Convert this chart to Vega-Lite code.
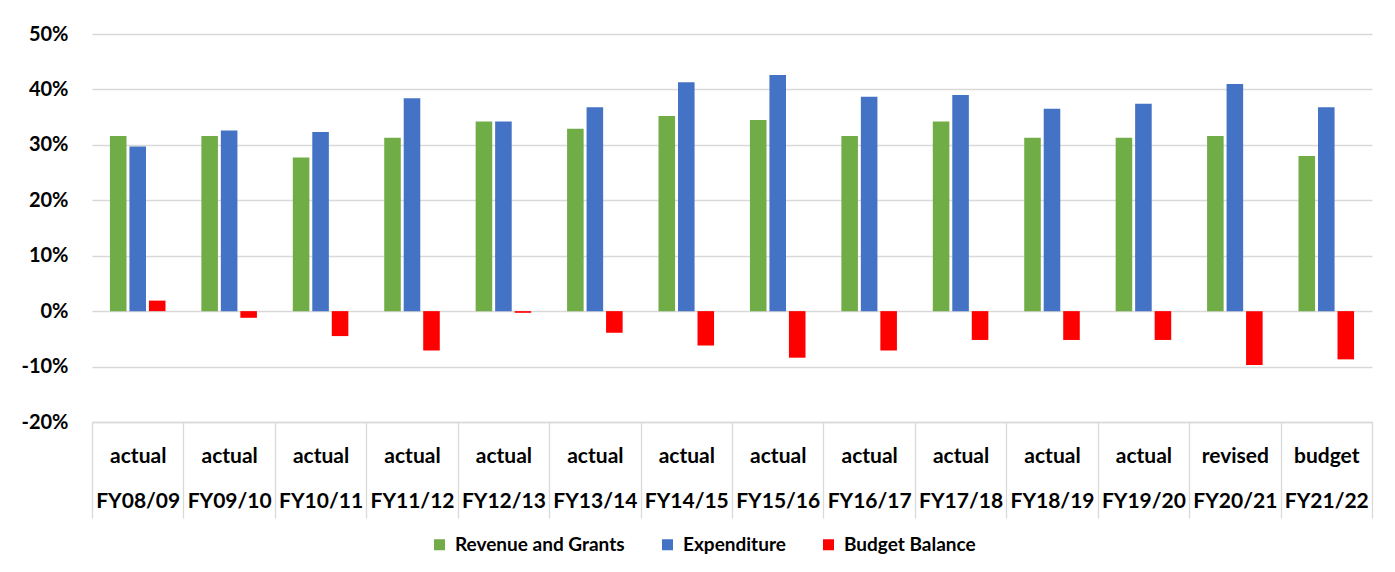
{
  "$schema": "https://vega.github.io/schema/vega-lite/v6.json",
  "width": 1280,
  "height": 388,
  "autosize": {"type": "none"},
  "padding": {"left": 92, "top": 34, "right": 23, "bottom": 150},
  "background": "white",
  "config": {"view": {"stroke": null}},
  "data": {
    "values": [
      {"period": "actual FY08/09", "series": "Revenue and Grants", "value": 0.316},
      {"period": "actual FY08/09", "series": "Expenditure", "value": 0.297},
      {"period": "actual FY08/09", "series": "Budget Balance", "value": 0.019},
      {"period": "actual FY09/10", "series": "Revenue and Grants", "value": 0.316},
      {"period": "actual FY09/10", "series": "Expenditure", "value": 0.326},
      {"period": "actual FY09/10", "series": "Budget Balance", "value": -0.012},
      {"period": "actual FY10/11", "series": "Revenue and Grants", "value": 0.277},
      {"period": "actual FY10/11", "series": "Expenditure", "value": 0.323},
      {"period": "actual FY10/11", "series": "Budget Balance", "value": -0.045},
      {"period": "actual FY11/12", "series": "Revenue and Grants", "value": 0.313},
      {"period": "actual FY11/12", "series": "Expenditure", "value": 0.384},
      {"period": "actual FY11/12", "series": "Budget Balance", "value": -0.071},
      {"period": "actual FY12/13", "series": "Revenue and Grants", "value": 0.342},
      {"period": "actual FY12/13", "series": "Expenditure", "value": 0.342},
      {"period": "actual FY12/13", "series": "Budget Balance", "value": -0.003},
      {"period": "actual FY13/14", "series": "Revenue and Grants", "value": 0.329},
      {"period": "actual FY13/14", "series": "Expenditure", "value": 0.368},
      {"period": "actual FY13/14", "series": "Budget Balance", "value": -0.039},
      {"period": "actual FY14/15", "series": "Revenue and Grants", "value": 0.352},
      {"period": "actual FY14/15", "series": "Expenditure", "value": 0.413},
      {"period": "actual FY14/15", "series": "Budget Balance", "value": -0.062},
      {"period": "actual FY15/16", "series": "Revenue and Grants", "value": 0.345},
      {"period": "actual FY15/16", "series": "Expenditure", "value": 0.426},
      {"period": "actual FY15/16", "series": "Budget Balance", "value": -0.084},
      {"period": "actual FY16/17", "series": "Revenue and Grants", "value": 0.316},
      {"period": "actual FY16/17", "series": "Expenditure", "value": 0.387},
      {"period": "actual FY16/17", "series": "Budget Balance", "value": -0.071},
      {"period": "actual FY17/18", "series": "Revenue and Grants", "value": 0.342},
      {"period": "actual FY17/18", "series": "Expenditure", "value": 0.390},
      {"period": "actual FY17/18", "series": "Budget Balance", "value": -0.052},
      {"period": "actual FY18/19", "series": "Revenue and Grants", "value": 0.313},
      {"period": "actual FY18/19", "series": "Expenditure", "value": 0.365},
      {"period": "actual FY18/19", "series": "Budget Balance", "value": -0.052},
      {"period": "actual FY19/20", "series": "Revenue and Grants", "value": 0.313},
      {"period": "actual FY19/20", "series": "Expenditure", "value": 0.374},
      {"period": "actual FY19/20", "series": "Budget Balance", "value": -0.052},
      {"period": "revised FY20/21", "series": "Revenue and Grants", "value": 0.316},
      {"period": "revised FY20/21", "series": "Expenditure", "value": 0.410},
      {"period": "revised FY20/21", "series": "Budget Balance", "value": -0.097},
      {"period": "budget FY21/22", "series": "Revenue and Grants", "value": 0.280},
      {"period": "budget FY21/22", "series": "Expenditure", "value": 0.368},
      {"period": "budget FY21/22", "series": "Budget Balance", "value": -0.087}
    ]
  },
  "mark": {"type": "bar"},
  "encoding": {
    "x": {
      "field": "period",
      "type": "nominal",
      "sort": null,
      "scale": {"paddingInner": 0, "paddingOuter": 0},
      "axis": {
        "title": null,
        "labelAngle": 0,
        "labelExpr": "isValid(datum.value) ? split(datum.value, ' ') : ''",
        "labelFont": "Lato",
        "labelFontWeight": "bold",
        "labelFontSize": 21,
        "labelColor": "#000000",
        "labelLineHeight": 45,
        "labelBaseline": "top",
        "labelPadding": -73,
        "labelBound": false,
        "labelOverlap": false,
        "tickBand": "extent",
        "tickSize": 96,
        "tickColor": "#d9d9d9",
        "tickWidth": 1.3,
        "domainColor": "#d9d9d9",
        "domainWidth": 1.3
      }
    },
    "y": {
      "field": "value",
      "type": "quantitative",
      "scale": {"domain": [-0.2, 0.5], "nice": false, "zero": true},
      "axis": {
        "title": null,
        "format": ".0%",
        "labelExpr": "replace(datum.label, '\u2212', '-')",
        "values": [-0.2, -0.1, 0, 0.1, 0.2, 0.3, 0.4, 0.5],
        "domain": false,
        "ticks": false,
        "labelPadding": 24,
        "labelFont": "Lato",
        "labelFontWeight": "bold",
        "labelFontSize": 20,
        "labelColor": "#000000",
        "gridColor": "#d9d9d9",
        "gridWidth": 1.3
      }
    },
    "xOffset": {
      "field": "series",
      "type": "nominal",
      "sort": ["Revenue and Grants", "Expenditure", "Budget Balance"],
      "scale": {"paddingInner": 0.15, "paddingOuter": 0.92}
    },
    "color": {
      "field": "series",
      "type": "nominal",
      "sort": ["Revenue and Grants", "Expenditure", "Budget Balance"],
      "scale": {
        "domain": ["Revenue and Grants", "Expenditure", "Budget Balance"],
        "range": ["#70AD47", "#4472C4", "#FF0000"]
      },
      "legend": {
        "title": null,
        "orient": "none",
        "direction": "horizontal",
        "legendX": 338,
        "legendY": 501,
        "padding": 0,
        "symbolType": "square",
        "symbolSize": 121,
        "symbolStrokeWidth": 0,
        "labelFont": "Lato",
        "labelFontWeight": "bold",
        "labelFontSize": 19,
        "labelColor": "#000000",
        "labelLimit": 400,
        "labelOffset": 6,
        "columnPadding": 33
      }
    }
  }
}
